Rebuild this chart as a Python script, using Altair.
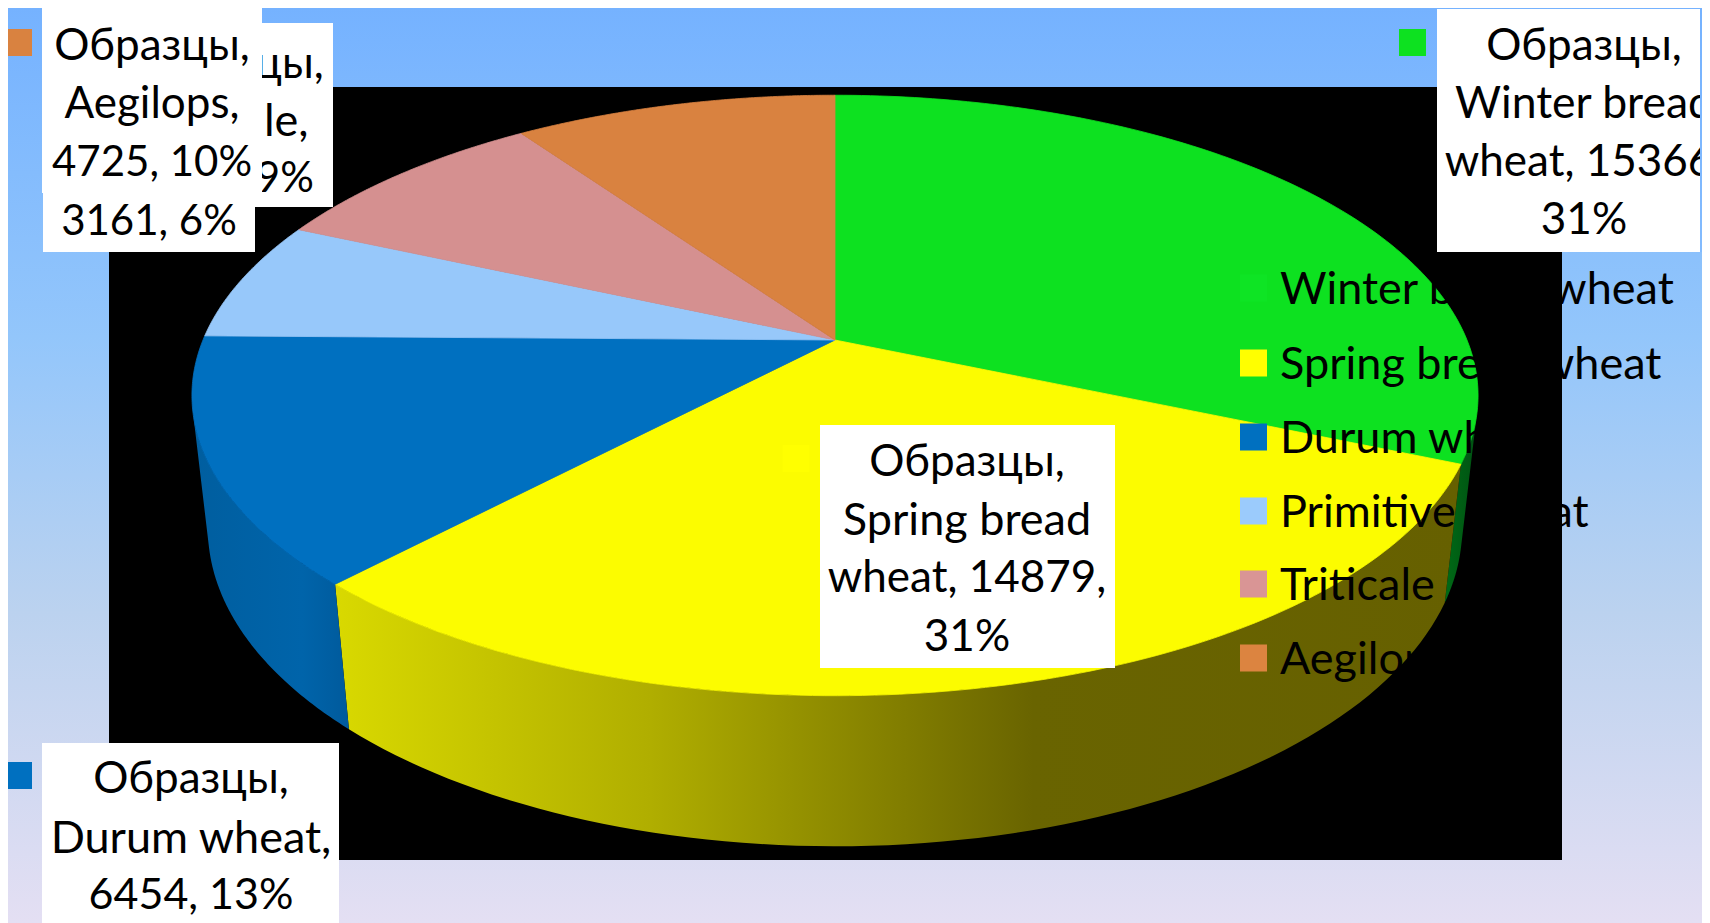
import numpy as np
import pandas as pd
import altair as alt

# ---- data
categories = ["Winter bread wheat", "Spring bread wheat", "Durum wheat", "Primitive wheat", "Triticale", "Aegilops"]
values = [15366, 14879, 6454, 3161, 4198, 4725]
top_colors = ["#0DE120", "#FCFC00", "#0070C0", "#97C8FA", "#D59090", "#D98240"]
legend_colors = ["#0EE424", "#FFFF00", "#0070C0", "#9BCBFC", "#D99595", "#DC8440"]
legend_y = [288, 363, 437, 511, 584, 658]

# ---- layout: projected disc (reference pixel space)
W, H = 1694, 915
CX, CY, AX, BY, Q = 835.0, 340.0, 632.0, 290.0, 0.1847
VX, VY, DEPTH = 835.0, 5811.0, 0.024

XS = alt.Scale(domain=[8, 8 + W], range=[0, W])
YS = alt.Scale(domain=[8 + H, 8], range=[H, 0])


def top_point(deg):
    a = np.radians(deg)
    u, v = np.sin(a), -np.cos(a)
    w = 1 - Q * v
    return CX + AX * u / w, CY + BY * v / w, w


def bottom_point(deg):
    x, y, w = top_point(deg)
    t = DEPTH / w
    return x + t * (VX - x), y + t * (VY - y)


def silhouette(lo, hi):
    # angle at which the wall's edge is tangent to the top rim
    best, best_c = lo, 1e18
    for d in np.arange(lo, hi, 0.1):
        x0, y0, _ = top_point(d - 0.05)
        x1, y1, _ = top_point(d + 0.05)
        bx, by = bottom_point(d)
        x, y, _ = top_point(d)
        c = abs((x1 - x0) * (by - y) - (y1 - y0) * (bx - x))
        if c < best_c:
            best, best_c = d, c
    return best


def enc(chart):
    return chart.encode(
        x=alt.X("x:Q", scale=XS, axis=None),
        y=alt.Y("y:Q", scale=YS, axis=None),
        order=alt.Order("i:Q"),
    )


def polygon(points, fill, stroke=None):
    df = pd.DataFrame({"x": [p[0] for p in points], "y": [p[1] for p in points], "i": range(len(points))})
    if stroke:
        mark = alt.Chart(df).mark_line(fill=fill, stroke=stroke, strokeWidth=0.8, interpolate="linear-closed")
    else:
        mark = alt.Chart(df).mark_line(fill=fill, strokeWidth=0, strokeOpacity=0)
    return enc(mark)


def rect(x0, x1, y0, y1, fill):
    df = pd.DataFrame({"x": [x0], "x2": [x1], "y": [y0], "y2": [y1]})
    return alt.Chart(df).mark_rect(fill=fill, strokeWidth=0).encode(
        x=alt.X("x:Q", scale=XS, axis=None), x2="x2:Q",
        y=alt.Y("y:Q", scale=YS, axis=None), y2="y2:Q",
    )


def grad(stops, vertical=False):
    return {
        "gradient": "linear", "x1": 0, "y1": 0,
        "x2": 0 if vertical else 1, "y2": 1 if vertical else 0,
        "stops": [{"offset": o, "color": c} for o, c in stops],
    }


def text_lines(lines, cx, ys, sizes, align="center"):
    df = pd.DataFrame({"t": lines, "x": [cx] * len(lines), "y": ys, "s": sizes})
    return alt.Chart(df).mark_text(
        font="Lato", color="#000000", align=align, baseline="middle"
    ).encode(
        x=alt.X("x:Q", scale=XS, axis=None),
        y=alt.Y("y:Q", scale=YS, axis=None),
        size=alt.Size("s:Q", scale=None),
        text="t:N",
    )


def swatch(cx, cy, color):
    return rect(cx - 13.5, cx + 13.5, cy - 13.5, cy + 13.5, color)


total = sum(values)
edges = np.concatenate([[0], np.cumsum(values) / total * 360.0])

layers = []
BG = [(0, "#75B2FF"), (0.36, "#93C6FB"), (0.66, "#BBD2EF"), (1, "#E4DFF3")]
layers.append(rect(8, 8 + W, 8, 8 + H, grad(BG, vertical=True)))
layers.append(rect(109, 1562, 87, 860, "#000000"))

# side walls
side_fills = [
    grad([(0, "#006A16"), (1, "#005212")]),
    grad([(0, "#D9D900"), (0.28, "#B0AE00"), (0.62, "#696400"), (1, "#666000")]),
    grad([(0, "#005E9F"), (0.7, "#0064AA"), (1, "#005A9C")]),
]
side_ranges = [
    (silhouette(80, 115), edges[1]),
    (edges[1], edges[2]),
    (edges[2], silhouette(245, 275)),
]
for (a0, a1), fill in zip(side_ranges, side_fills):
    degs = np.linspace(a0, a1, 80)
    pts = [top_point(d)[:2] for d in degs] + [bottom_point(d) for d in degs[::-1]]
    layers.append(polygon(pts, fill))

# top faces
for k, color in enumerate(top_colors):
    degs = np.linspace(edges[k], edges[k + 1], 120)
    pts = [(CX, CY)] + [top_point(d)[:2] for d in degs]
    layers.append(polygon(pts, color, stroke=color))

# legend
for name, c, y in zip(categories, legend_colors, legend_y):
    layers.append(swatch(1253.5, y, c))
    layers.append(text_lines([name], 1280, [y + 1.5], [45], align="left"))

# data-label keys
layers.append(swatch(18.5, 42.5, top_colors[5]))
layers.append(swatch(1412.5, 42.5, top_colors[0]))
layers.append(swatch(18.5, 775.5, top_colors[2]))
layers.append(swatch(796, 458.5, "#FFFF00"))

# data labels (stacked in the reference's order)
layers.append(rect(119, 333, 23, 207, "#FFFFFF"))
layers.append(text_lines(["Образцы,", "Triticale,", "4198, 9%"], 226, [65, 122, 179], [44, 45, 42]))
layers.append(rect(43, 255, 9, 252, "#FFFFFF"))
layers.append(text_lines(["Образцы,", "Primitive", "wheat,", "3161, 6%"], 149, [47, 105, 163, 222], [44, 45, 45, 42]))
layers.append(rect(42, 262, 8, 193, "#FFFFFF"))
layers.append(text_lines(["Образцы,", "Aegilops,", "4725, 10%"], 152, [47, 105, 163], [44, 44, 42]))
layers.append(rect(1437, 1700, 9, 252, "#FFFFFF"))
layers.append(text_lines(["Образцы,", "Winter bread", "wheat, 15366,", "31%"], 1584, [47, 105, 163, 221], [44, 44.5, 44, 44]))
layers.append(rect(1700, 8 + W, 8, 252, grad([(0, "#75B2FF"), (1, "#83BBFE")], vertical=True)))
layers.append(rect(820, 1115, 425, 668, "#FFFFFF"))
layers.append(text_lines(["Образцы,", "Spring bread", "wheat, 14879,", "31%"], 967, [463, 521, 579, 638], [44, 45, 44, 44]))
layers.append(rect(42, 339, 743, 923, "#FFFFFF"))
layers.append(text_lines(["Образцы,", "Durum wheat,", "6454, 13%"], 191, [780, 839, 896], [44, 45, 43]))

chart = alt.layer(*layers).properties(
    width=W, height=H, padding=0, autosize=alt.AutoSizeParams(type="none")
).configure_view(stroke=None)
chart.save("out.html", embed_options={"renderer": "svg", "actions": False})
